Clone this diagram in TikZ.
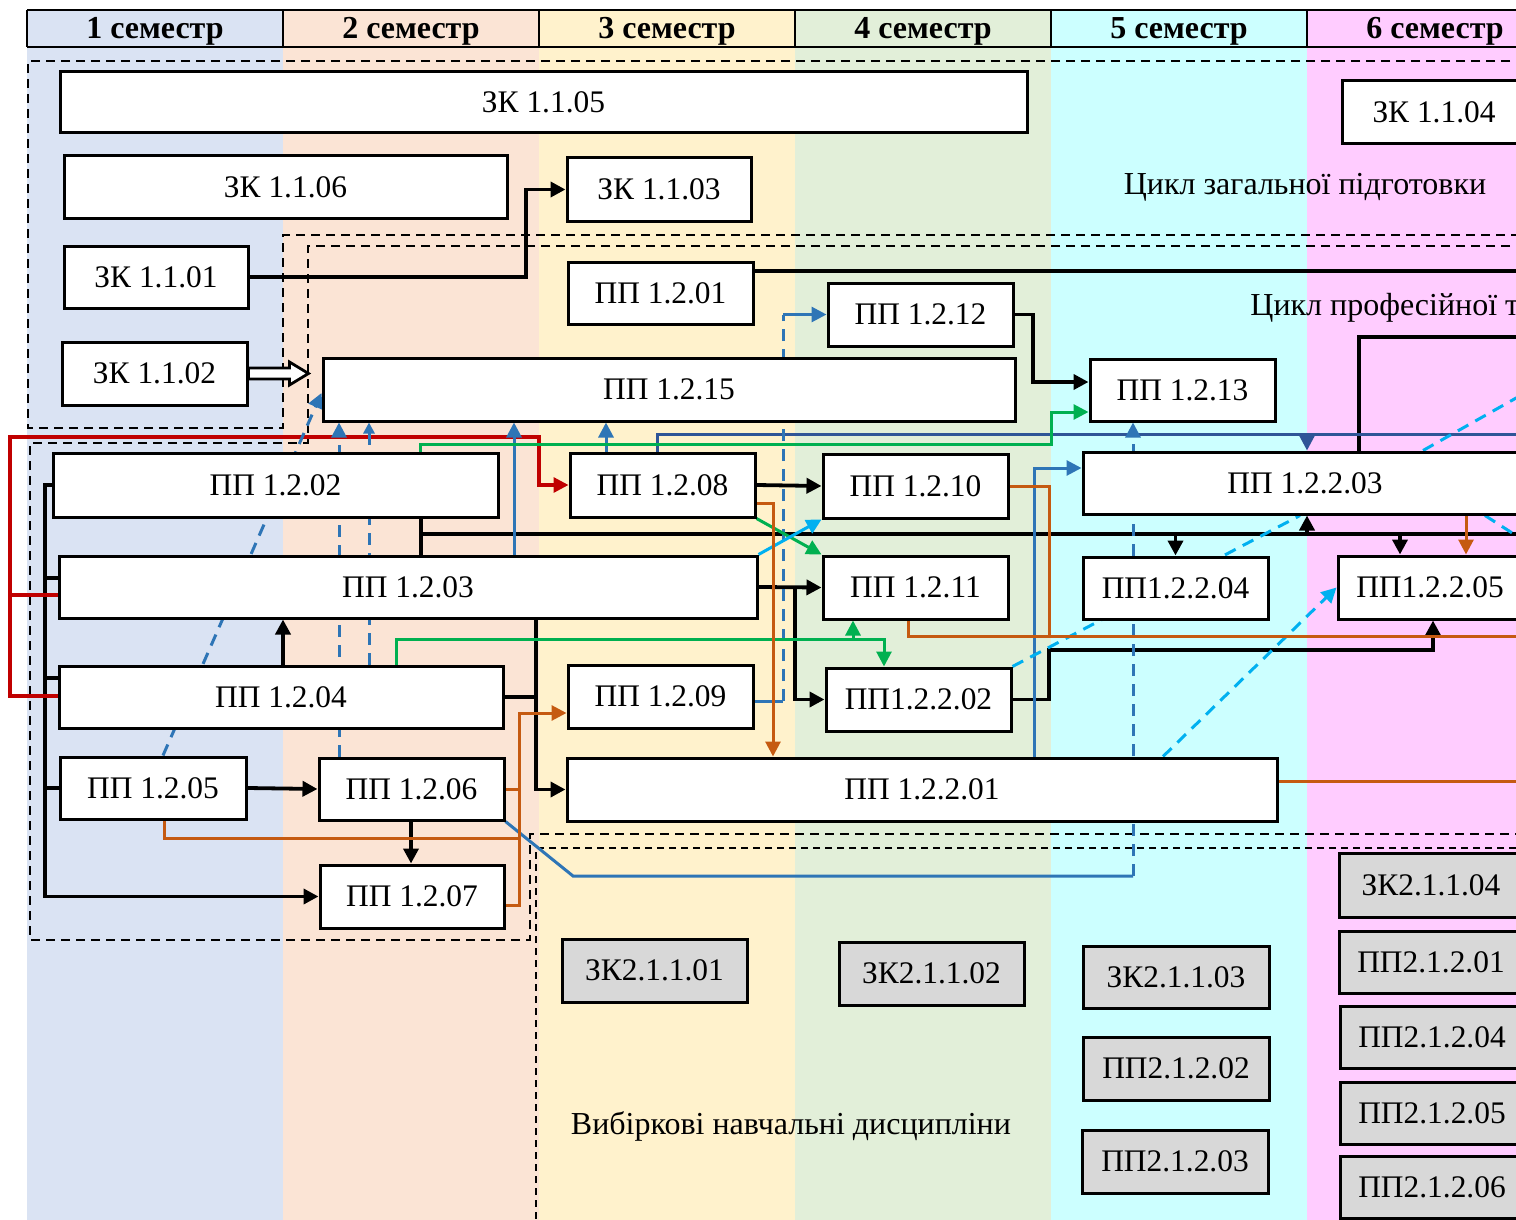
\documentclass[tikz,border=0pt]{standalone}
\usepackage{fontspec}
\setmainfont{Liberation Serif}
\usetikzlibrary{arrows.meta,calc}
\definecolor{colA}{RGB}{218,227,243}
\definecolor{colB}{RGB}{251,228,213}
\definecolor{colC}{RGB}{255,242,204}
\definecolor{colD}{RGB}{226,239,217}
\definecolor{colE}{RGB}{204,255,255}
\definecolor{colF}{RGB}{255,204,255}
\definecolor{boxgray}{RGB}{216,216,216}
\definecolor{cred}{RGB}{192,0,0}
\definecolor{cblue}{RGB}{46,117,182}
\definecolor{cdblue}{RGB}{47,85,151}
\definecolor{cgreen}{RGB}{0,176,80}
\definecolor{ccyan}{RGB}{0,176,240}
\definecolor{corange}{RGB}{197,90,17}
\newcommand\bxfont{\fontsize{15.7}{18}\selectfont}
\newcommand\hdrfont{\bfseries\fontsize{16}{19}\selectfont}
\newcommand\lblfont{\fontsize{16}{19}\selectfont}
\newcommand\mybox[7][wbox]{%
  \pgfmathsetmacro\bxw{(#5-#3)*0.5}%
  \pgfmathsetmacro\bxh{(#6-#4)*0.5}%
  \node[#1, minimum width=\bxw pt, minimum height=\bxh pt] (#2) at ({(#3+#5)/2},{(#4+#6)/2}) {#7};}
\begin{document}
\begin{tikzpicture}[x=0.5pt,y=-0.5pt,
  wbox/.style={draw,line width=1.5pt,fill=white,inner sep=0pt,font=\bxfont},
  gbox/.style={wbox,fill=boxgray},
  hdr/.style={font=\hdrfont,inner sep=0pt},
  lbl/.style={font=\lblfont,inner sep=0pt},
  myarr/.style={-{Triangle[length=7.5pt,width=7.5pt]}},
  smarr/.style={-{Triangle[length=5.5pt,width=5.5pt]}},
  blk/.style={line width=1.9pt,black},
  rd/.style={line width=1.6pt,cred},
  bl/.style={line width=1.5pt,cblue},
  dbl/.style={line width=1.5pt,cdblue},
  gr/.style={line width=1.5pt,cgreen},
  cy/.style={line width=1.5pt,ccyan},
  orr/.style={line width=1.5pt,corange},
  bdash/.style={dash pattern=on 6pt off 4pt},
  reg/.style={line width=1.2pt,dash pattern=on 4.5pt off 3pt},
  regthin/.style={line width=0.9pt,dash pattern=on 3.5pt off 2.5pt}]
\useasboundingbox (0,0) rectangle (1516,1220);
\clip (0,0) rectangle (1516,1220);
% columns
\fill[colA] (27,10) rectangle (283,1230);
\fill[colB] (283,10) rectangle (539,1230);
\fill[colC] (539,10) rectangle (795,1230);
\fill[colD] (795,10) rectangle (1051,1230);
\fill[colE] (1051,10) rectangle (1307,1230);
\fill[colF] (1307,10) rectangle (1540,1230);
% header
\draw[line width=1.3pt] (27,10) -- (1540,10) (27,47) -- (1540,47);
\foreach \x in {27,283,539,795,1051,1307} \draw[line width=1.3pt] (\x,10) -- (\x,47);
\node[hdr] (h1) at (155,31) {1 семестр};
\node[hdr] (h2) at (411,31) {2 семестр};
\node[hdr] (h3) at (667,31) {3 семестр};
\node[hdr] (h4) at (923,31) {4 семестр};
\node[hdr] (h5) at (1179,31) {5 семестр};
\node[hdr] (h6) at (1435,31) {6 семестр};
% dashed regions
\draw[reg] (1540,61) -- (28,61) -- (28,428) -- (283,428) -- (283,235) -- (1540,235);
\draw[reg] (1540,246) -- (308,246) -- (308,443) -- (30,443) -- (30,940) -- (530,940) -- (530,834) -- (1540,834);
\draw[regthin] (1540,848) -- (536,848) -- (536,1230);
% invisible box frames used as connector anchors
\begin{scope}[opacity=0]
\mybox{zk101}{64}{246}{248}{308}{}
\mybox{zk102}{62}{342}{247}{405}{}
\mybox{zk103}{567}{158}{751}{221}{}
\mybox{pp201}{568}{262}{753}{324}{}
\mybox{pp212}{828}{283}{1013}{346}{}
\mybox{pp215}{323}{358}{1015}{421}{}
\mybox{pp213}{1090}{359}{1275}{421}{}
\mybox{pp202}{53}{453}{498}{517}{}
\mybox{pp203}{59}{556}{757}{618}{}
\mybox{pp204}{59}{666}{503}{728}{}
\mybox{pp205}{60}{757}{246}{819}{}
\mybox{pp206}{319}{758}{504}{820}{}
\mybox{pp207}{320}{865}{504}{928}{}
\mybox{pp208}{570}{453}{755}{517}{}
\mybox{pp210}{823}{454}{1008}{518}{}
\mybox{pp211}{823}{556}{1008}{619}{}
\mybox{pp209}{568}{665}{753}{728}{}
\mybox{pp2202}{826}{668}{1011}{731}{}
\mybox{pp2201}{567}{758}{1277}{821}{}
\mybox{pp2203}{1083}{452}{1527}{514}{}
\mybox{pp2204}{1083}{557}{1268}{619}{}
\mybox{pp2205}{1338}{556}{1522}{619}{}
\end{scope}
% ---- connectors ----
% black
\draw[blk,myarr] (zk101.east) -- (zk101.east -| 526,0) |- (zk103.west);
\draw[blk] (pp201.east |- 0,271) -- (1540,271);
\draw[blk,myarr] (pp212.east) -- (pp212.east -| 1033,0) |- (pp213.west |- 0,382);
\coordinate (j1) at (421,534);
\draw[blk] (pp202.south -| 421,0) -- (pp203.north -| 421,0);
\draw[blk] (j1) -- (1540,534);
\draw[blk,myarr] (pp2204.north |- j1) -- (pp2204.north);
\draw[blk,myarr] (j1 -| 1307,0) -- (pp2203.south -| 1307,0);
\draw[blk,myarr] (j1 -| 1400,0) -- (pp2205.north -| 1400,0);
\draw[blk,myarr] (pp202.west) -| (pp207.west -| 45,0) -- (pp207.west);
\draw[blk] (pp203.west |- 0,578) -- (45,578);
\draw[blk] (pp204.west |- 0,678) -- (45,678);
\draw[blk] (pp205.west) -- (pp205.west -| 45,0);
\draw[blk,myarr] (pp204.north -| 283,0) -- (pp203.south -| 283,0);
\draw[blk,myarr] (pp205.east) -- (pp206.west);
\draw[blk,myarr] (pp206.south -| 411,0) -- (pp207.north -| 411,0);
\draw[blk,myarr] (pp203.south -| 536,0) |- (pp2201.west);
\draw[blk] (pp204.east) -- (pp204.east -| 536,0);
\draw[blk,myarr] (pp208.east) -- (pp210.west);
\draw[blk,myarr] (pp203.east) -- (pp211.west);
\draw[blk,myarr] (pp203.east -| 795,0) |- (pp2202.west);
\draw[blk,myarr] (pp2202.east) -| (1049,650) -| (pp2205.south -| 1433,0);
\draw[blk] (pp2203.north -| 1359,0) |- (1540,337);
% red
\draw[rd,myarr] (pp204.west |- 0,696) -| (10,437) -| (pp208.west -| 539,0) -- (pp208.west);
\draw[rd] (pp203.west |- 0,595) -- (10,595);
% blue
\draw[bl,bdash,myarr] (pp205.north -| 163,0) -- (pp215.west |- 0,393);
\draw[bl,bdash,myarr] (pp206.north -| 339,0) -- (pp215.south -| 339,0);
\draw[bl,bdash,smarr] (pp204.north -| 369,0) -- (pp215.south -| 369,0);
\draw[bl,myarr] (pp203.north -| 514,0) -- (pp215.south -| 514,0);
\draw[bl,myarr] (pp208.north -| 606,0) -- (pp215.south -| 606,0);
\draw[dbl] (pp208.north -| 657,0) |- (1540,434);
\draw[dbl,myarr] (1307,434) -- (pp2203.north -| 1307,0);
\draw[bl] (pp209.east |- 0,701) -- (783,701) coordinate (j3);
\draw[bl,bdash] (j3) -- (j3 |- pp212.west) coordinate (j4);
\draw[bl,myarr] (j4) -- (pp212.west);
\draw[bl] (pp206.south east) -- (573,876) -- (1133,876) coordinate (j5);
\draw[bl,bdash,myarr] (j5) -- (pp213.south -| 1133,0);
\draw[bl,myarr] (pp2201.north -| 1034,0) |- (pp2203.west |- 0,468);
% green
\draw[gr,myarr] (pp202.north -| 420,0) |- (1051,444) |- (pp213.west |- 0,412);
\draw[gr,myarr] (pp204.north -| 396,0) |- (884,639) -- (pp2202.north -| 884,0);
\draw[gr,myarr] (853,639) -- (pp211.south -| 853,0);
\draw[gr,myarr] (pp208.south east) -- (pp211.north west);
% cyan
\draw[cy,myarr] (pp203.north east) -- (pp210.south west);
\draw[cy,bdash] (pp2202.north east) -- (pp2203.south -| 1300,0);
\draw[cy,bdash,myarr] (pp2201.north -| 1163,0) -- (pp2205.west);
\draw[cy,bdash] (pp2203.north -| 1423,0) -- ++(110,-62);
\draw[cy,bdash] (pp2203.south -| 1485,0) -- ++(45,29);
% orange
\draw[orr,myarr] (pp208.east |- 0,503) -| (pp2201.north -| 773,0);
\draw[orr] (pp210.east) -| (1049,636);
\draw[orr] (pp211.south -| 908,0) |- (1540,636);
\draw[orr,myarr] (pp2203.south -| 1466,0) -- (pp2205.north -| 1466,0);
\draw[orr] (pp2201.east |- 0,781) -- (1540,781);
\draw[orr] (pp205.south -| 164,0) |- (519,838);
\draw[orr,myarr] (pp207.east |- 0,905) -| (519,713) -- (pp209.west |- 0,713);
\draw[orr] (pp206.east) -- (pp206.east -| 519,0);
% ---- boxes drawn ----
\mybox{bzk105}{60}{72}{1027}{133}{ЗК 1.1.05}
\mybox{bzk106}{64}{156}{507}{218}{ЗК 1.1.06}
\mybox{bzk101}{64}{246}{248}{308}{ЗК 1.1.01}
\mybox{bzk102}{62}{342}{247}{405}{ЗК 1.1.02}
\mybox{bzk103}{567}{158}{751}{221}{ЗК 1.1.03}
\mybox{bzk104}{1342}{81}{1526}{144}{ЗК 1.1.04}
\mybox{bpp201}{568}{262}{753}{324}{ПП 1.2.01}
\mybox{bpp212}{828}{283}{1013}{346}{ПП 1.2.12}
\mybox{bpp215}{323}{358}{1015}{421}{ПП 1.2.15}
\mybox{bpp213}{1090}{359}{1275}{421}{ПП 1.2.13}
\mybox{bpp202}{53}{453}{498}{517}{ПП 1.2.02}
\mybox{bpp203}{59}{556}{757}{618}{ПП 1.2.03}
\mybox{bpp204}{59}{666}{503}{728}{ПП 1.2.04}
\mybox{bpp205}{60}{757}{246}{819}{ПП 1.2.05}
\mybox{bpp206}{319}{758}{504}{820}{ПП 1.2.06}
\mybox{bpp207}{320}{865}{504}{928}{ПП 1.2.07}
\mybox{bpp208}{570}{453}{755}{517}{ПП 1.2.08}
\mybox{bpp210}{823}{454}{1008}{518}{ПП 1.2.10}
\mybox{bpp211}{823}{556}{1008}{619}{ПП 1.2.11}
\mybox{bpp209}{568}{665}{753}{728}{ПП 1.2.09}
\mybox{bpp2202}{826}{668}{1011}{731}{ПП1.2.2.02}
\mybox{bpp2201}{567}{758}{1277}{821}{ПП 1.2.2.01}
\mybox{bpp2203}{1083}{452}{1527}{514}{ПП 1.2.2.03}
\mybox{bpp2204}{1083}{557}{1268}{619}{ПП1.2.2.04}
\mybox{bpp2205}{1338}{556}{1522}{619}{ПП1.2.2.05}
\mybox[gbox]{e101}{562}{939}{747}{1002}{ЗК2.1.1.01}
\mybox[gbox]{e102}{839}{942}{1024}{1005}{ЗК2.1.1.02}
\mybox[gbox]{e103}{1083}{946}{1269}{1008}{ЗК2.1.1.03}
\mybox[gbox]{e202}{1083}{1037}{1269}{1100}{ПП2.1.2.02}
\mybox[gbox]{e203}{1082}{1130}{1268}{1193}{ПП2.1.2.03}
\mybox[gbox]{e104}{1339}{853}{1523}{917}{ЗК2.1.1.04}
\mybox[gbox]{e201}{1339}{931}{1523}{993}{ПП2.1.2.01}
\mybox[gbox]{e204}{1340}{1006}{1524}{1068}{ПП2.1.2.04}
\mybox[gbox]{e205}{1340}{1082}{1524}{1144}{ПП2.1.2.05}
\mybox[gbox]{e206}{1340}{1156}{1524}{1218}{ПП2.1.2.06}
% hollow arrow from ZK 1.1.02 into the professional cycle
\draw[line width=1.4pt,fill=white] ($(zk102.east)+(0,-5.5)$) -- ++(41,0) -- ++(0,-6) -- ++(19,11.5) -- ++(-19,11.5) -- ++(0,-6) -- ++(-41,0) -- cycle;
% labels
\node[lbl] (t1) at (1305,187) {Цикл загальної підготовки};
\node[lbl,anchor=west] (t2) at (1250,308) {Цикл професійної та практичної підготовки};
\node[lbl] (t3) at (791,1126) {Вибіркові навчальні дисципліни};
\end{tikzpicture}
\end{document}
